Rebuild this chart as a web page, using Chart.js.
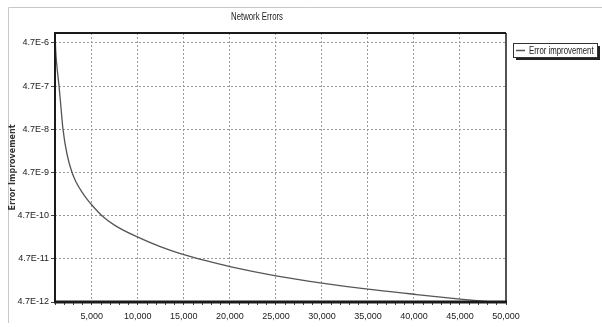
<!DOCTYPE html>
<html>
<head>
<meta charset="utf-8">
<script src="https://cdn.jsdelivr.net/npm/chart.js@4.4.0/dist/chart.umd.min.js"></script>
<style>
  body { margin: 0; background: #fff; }
  canvas { display: block; }
</style>
</head>
<body>
<canvas id="chart" width="602" height="327"></canvas>
<script>
const chartTitle = 'Network Errors'
const yTitle = 'Error Improvement'
const seriesName = 'Error improvement'

// training epochs and error values
const epochs = [1000, 1100, 1250, 1440, 1650, 1870, 2300, 2850, 3300, 3900, 4500, 5000, 6100, 7500,
  10000, 12500, 15000, 17500, 20000, 25000, 30000, 35000, 40000, 45000, 50000]
const errors = [7.6e-6, 2.6e-6, 1.1e-6, 4.7e-7, 1.5e-7, 4.7e-8, 1.26e-8, 4.7e-9, 2.8e-9, 1.7e-9, 1.12e-9, 8.3e-10, 4.7e-10, 2.8e-10,
  1.49e-10, 8.9e-11, 5.9e-11, 4.2e-11, 3.1e-11, 1.9e-11, 1.29e-11, 9.3e-12, 7.1e-12, 5.5e-12, 4.4e-12]

const yTickValues = [4.7e-12, 4.7e-11, 4.7e-10, 4.7e-9, 4.7e-8, 4.7e-7, 4.7e-6]
const yTickLabels = ['4.7E-12', '4.7E-11', '4.7E-10', '4.7E-9', '4.7E-8', '4.7E-7', '4.7E-6']

const font = '"Liberation Sans", sans-serif'

function points (xs, ys) {
  let out = []
  for (let i = 0; i < xs.length; i++) {
    out.push({ x: xs[i], y: ys[i] })
  }
  return out
}

// narrow-looking text: squeeze horizontally
function narrowText (c, text, x, y, size, align) {
  c.save()
  c.font = size + 'px ' + font
  c.textAlign = align
  c.textBaseline = 'middle'
  c.translate(x, y)
  c.scale(0.78, 1)
  c.fillText(text, 0, 0)
  c.restore()
}

const frame = {
  id: 'frame',
  beforeDraw (chart) {
    const c = chart.ctx
    c.save()
    c.fillStyle = '#fff'
    c.fillRect(0, 0, chart.width, chart.height)
    // light outer frame
    c.strokeStyle = '#c8c8c8'
    c.lineWidth = 1
    c.beginPath()
    c.moveTo(8.5, 323)
    c.lineTo(8.5, 7.5)
    c.lineTo(chart.width, 7.5)
    c.stroke()
    c.restore()
  },
  afterDraw (chart) {
    const c = chart.ctx
    const a = chart.chartArea
    c.save()
    c.strokeStyle = '#1a1a1a'
    c.lineWidth = 2
    c.beginPath()
    c.moveTo(a.left, a.bottom)
    c.lineTo(a.left, a.top)
    c.lineTo(a.right, a.top)
    c.stroke()
    c.lineWidth = 1.5
    c.beginPath()
    c.moveTo(a.right, a.top)
    c.lineTo(a.right, a.bottom)
    c.stroke()
    c.lineWidth = 3
    c.beginPath()
    c.moveTo(a.left - 1, a.bottom)
    c.lineTo(a.right + 1, a.bottom)
    c.stroke()

    // title, centred between outer frame and plot right edge
    c.fillStyle = '#222'
    narrowText(c, chartTitle, (8 + a.right) / 2, 17, 10, 'center')

    // legend box with shadow
    const lx = a.right + 7, ly = a.top + 10, lw = 84, lh = 14
    c.fillStyle = '#222'
    c.fillRect(lx + 3, ly + 3, lw, lh)
    c.fillStyle = '#fff'
    c.fillRect(lx, ly, lw, lh)
    c.strokeStyle = '#333'
    c.lineWidth = 1
    c.strokeRect(lx + 0.5, ly + 0.5, lw, lh)
    c.strokeStyle = chart.data.datasets[0].borderColor
    c.lineWidth = 1.5
    c.beginPath()
    c.moveTo(lx + 3, ly + lh / 2 + 0.5)
    c.lineTo(lx + 12, ly + lh / 2 + 0.5)
    c.stroke()
    c.fillStyle = '#222'
    narrowText(c, chart.data.datasets[0].label, lx + 16, ly + lh / 2 + 1, 10, 'left')
    c.restore()
  }
}

new Chart(document.getElementById('chart'), {
  type: 'line',
  data: {
    datasets: [{
      label: seriesName,
      data: points(epochs, errors),
      borderColor: '#555555',
      borderWidth: 1.3,
      pointRadius: 0,
      cubicInterpolationMode: 'monotone',
      fill: false
    }]
  },
  options: {
    responsive: false,
    animation: false,
    layout: { padding: { left: 8, right: 96, top: 33, bottom: 0 } },
    plugins: {
      legend: { display: false },
      title: { display: false },
      tooltip: { enabled: false }
    },
    scales: {
      x: {
        type: 'linear',
        min: 1000,
        max: 50000,
        afterFit (scale) { scale.height = 25 },
        ticks: {
          stepSize: 1000,
          autoSkip: false,
          maxRotation: 0,
          padding: 6,
          color: '#222',
          font: { family: font, size: 9 },
          callback: v => v % 5000 === 0 ? v.toLocaleString('en-US') : ''
        },
        grid: {
          color: ctx => (ctx.tick && ctx.tick.value % 5000 === 0 && ctx.tick.value < 50000) ? '#9a9a9a' : 'rgba(0,0,0,0)',
          tickColor: '#444',
          tickLength: 3,
          lineWidth: 1
        },
        border: { display: false, dash: [2, 2] }
      },
      y: {
        type: 'logarithmic',
        min: 4.7e-12,
        max: 8e-6,
        afterFit (scale) { scale.width = 47 },
        afterBuildTicks (scale) {
          scale.ticks = yTickValues.map(v => ({ value: v }))
        },
        title: {
          display: true,
          text: yTitle,
          color: '#333',
          padding: { top: 0, bottom: 0 },
          font: { family: '"DejaVu Sans", sans-serif', size: 8, weight: 'bold' }
        },
        ticks: {
          padding: 2,
          color: '#222',
          font: { family: font, size: 9 },
          callback: v => yTickLabels[yTickValues.indexOf(v)] || ''
        },
        grid: {
          color: ctx => (ctx.tick && ctx.tick.value > 4.7e-12) ? '#9a9a9a' : 'rgba(0,0,0,0)',
          tickColor: '#444',
          tickLength: 4,
          lineWidth: 1
        },
        border: { display: false, dash: [2, 2] }
      }
    }
  },
  plugins: [frame]
})
</script>
</body>
</html>
